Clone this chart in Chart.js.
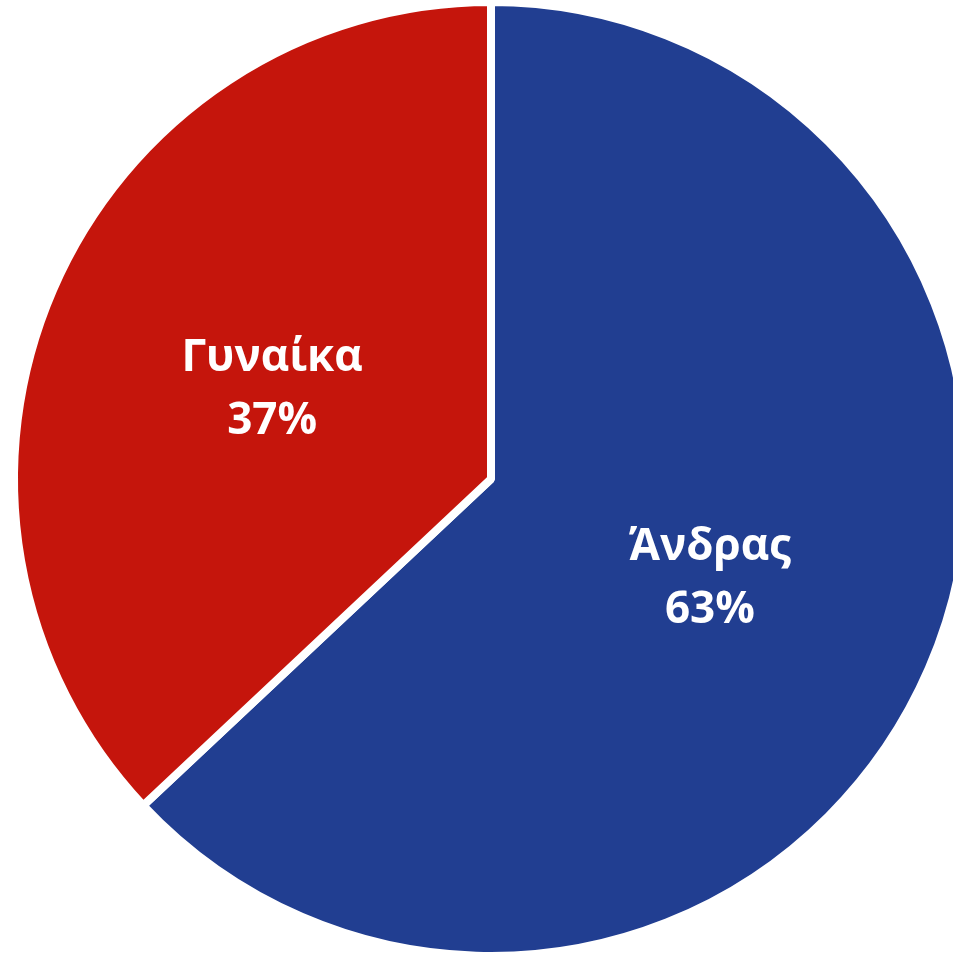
<!DOCTYPE html>
<html>
<head>
<meta charset="utf-8">
<script src="https://cdn.jsdelivr.net/npm/chart.js@4"></script>
<style>
    html, body { margin: 0; padding: 0; background: #ffffff; overflow: hidden; }
    #wrap { position: relative; width: 953px; height: 953px; overflow: hidden; }
    #genderChart { position: absolute; left: 0; top: -2px; }
</style>
</head>
<body>
<div id="wrap"><canvas id="genderChart" width="982" height="962"></canvas></div>
<script>
// Gender split pie chart

const categories = ['Άνδρας', 'Γυναίκα'];
const shares = [63, 37];
const sliceColors = ['#213E91', '#C5150C'];

// Draws "name / percent" in the middle of each slice
const sliceLabels = {
    id: 'sliceLabels',
    afterDatasetsDraw: function (chart) {
        const ctx = chart.ctx;
        const meta = chart.getDatasetMeta(0);
        ctx.save();
        ctx.fillStyle = '#ffffff';
        ctx.font = "bold 44px 'Open Sans', sans-serif";
        ctx.textAlign = 'center';
        ctx.textBaseline = 'middle';
        meta.data.forEach(function (arc, i) {
            const pos = arc.tooltipPosition();
            ctx.fillText(categories[i], pos.x, pos.y - 26);
            ctx.fillText(shares[i] + '%', pos.x, pos.y + 37);
        });
        ctx.restore();
    }
};

document.addEventListener('DOMContentLoaded', function () {
    const chartCanvas = document.getElementById('genderChart');
    const ctx = chartCanvas.getContext('2d');

    new Chart(ctx, {
        type: 'pie',
        data: {
            labels: categories,
            datasets: [{
                data: shares,
                backgroundColor: sliceColors,
                borderColor: '#ffffff',
                borderWidth: 8
            }]
        },
        options: {
            responsive: false,
            animation: false,
            layout: { padding: 0 },
            plugins: {
                legend: { display: false },
                tooltip: { enabled: false }
            }
        },
        plugins: [sliceLabels]
    });
});
</script>
</body>
</html>
